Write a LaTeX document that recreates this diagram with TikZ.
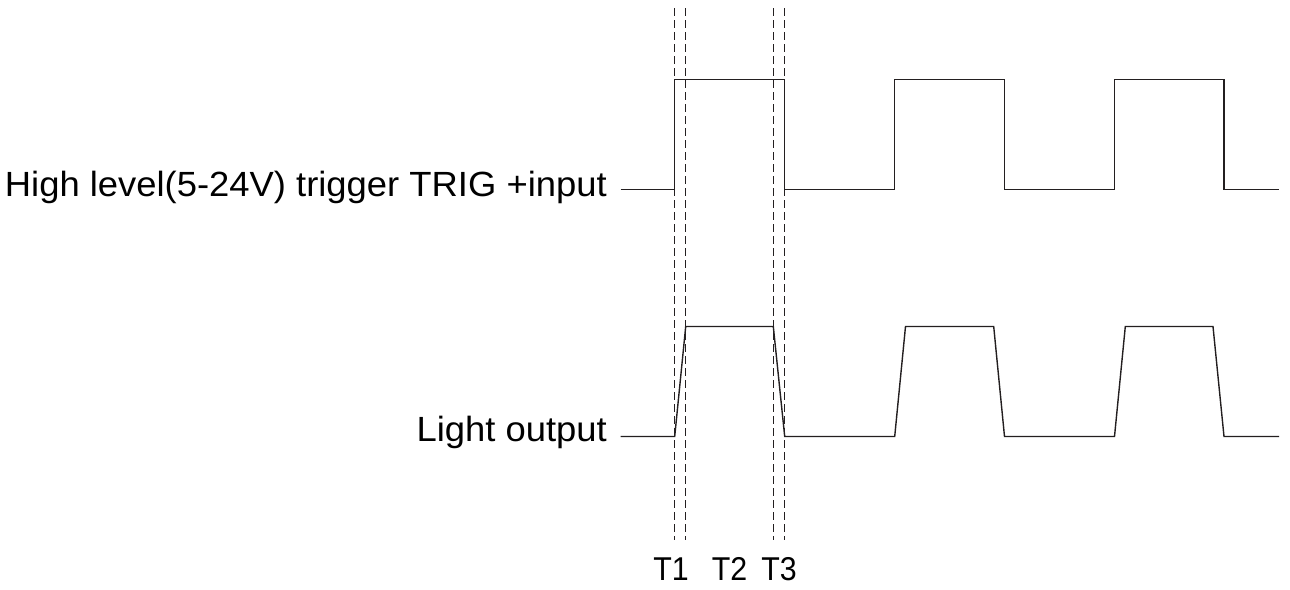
\documentclass[tikz,border=0pt]{standalone}
\usepackage{fontspec}
\setmainfont{Liberation Sans}
\definecolor{sig}{HTML}{231F20}
\begin{document}
\begin{tikzpicture}[x=1pt,y=-1pt,
  sigline/.style={draw=sig,line width=1.4pt,line join=miter},
  guide/.style={draw=sig,line width=1.2pt,dash pattern=on 8pt off 4pt},
  lbl/.style={inner sep=0pt,anchor=base east,text=black},
  tlbl/.style={inner sep=0pt,anchor=base,text=black,font=\fontsize{33}{38}\selectfont}]
\useasboundingbox (0,0) rectangle (1290,589);
% labels
\node[lbl] (trig) at (607,196.7) {\scalebox{1.04}[1]{\fontsize{35}{40}\selectfont High level(5-24V) trigger TRIG +input}};
\node[lbl] (light) at (607,441) {\scalebox{1.04}[1]{\fontsize{35}{40}\selectfont Light output}};
% coordinates for signal ends
\coordinate (a0) at (620.7,189.3);
\coordinate (a1) at (1279,189.3);
\coordinate (b0) at (620.7,436.5);
\coordinate (b1) at (1279,436.5);
% trigger waveform
\draw[sigline] (a0) -- (674.7,189.3) -- (674.7,79.5) -- (784.7,79.5) -- (784.7,189.3)
  -- (894.7,189.3) -- (894.7,79.5) -- (1004.5,79.5) -- (1004.5,189.3)
  -- (1114.5,189.3) -- (1114.5,79.5) -- (1224,79.5) -- (1224,189.3) -- (a1);
% light waveform
\draw[sigline] (b0) -- (674.7,436.5) -- (685.7,326.5) -- (773.3,326.5) -- (784.7,436.5)
  -- (894.7,436.5) -- (905.5,326.5) -- (993.7,326.5) -- (1004.5,436.5)
  -- (1114.5,436.5) -- (1125.3,326.5) -- (1213,326.5) -- (1224,436.5) -- (b1);
% guides
\coordinate (g1t) at (674.7,8); \coordinate (g1b) at (674.7,540);
\coordinate (g2t) at (685.7,8); \coordinate (g2b) at (685.7,540);
\coordinate (g3t) at (773.3,8); \coordinate (g3b) at (773.3,540);
\coordinate (g4t) at (784.7,8); \coordinate (g4b) at (784.7,540);
\draw[guide] (g1t) -- (g1b);
\draw[guide] (g2t) -- (g2b);
\draw[guide] (g3t) -- (g3b);
\draw[guide] (g4t) -- (g4b);
% T labels
\node[tlbl] (t1) at (671,580) {\scalebox{0.92}[1]{T1}};
\node[tlbl] (t2) at (729.5,580) {\scalebox{0.92}[1]{T2}};
\node[tlbl] (t3) at (779,580) {\scalebox{0.92}[1]{T3}};
\end{tikzpicture}
\end{document}
